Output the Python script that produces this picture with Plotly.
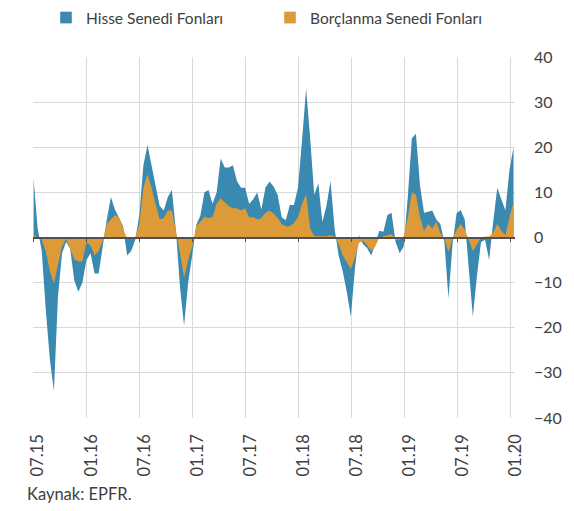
import datetime as dt
import plotly.graph_objects as go

start = dt.date(2015, 7, 3)
hisse = [13, 2, -3, -16, -27, -34, -13, -3.5, -1, -2.5,
         -9.5, -12, -10, -5, -3.5, -8, -8, -2, 4, 9,
         6.2, 4.4, 2.5, -4, -3, -0.5, 5, 16, 20.5, 16,
         11.5, 7, 6, 9, 10.5, 1.5, -11, -19.5, -10, -4,
         2.8, 4.8, 10, 10.5, 7.5, 10, 17.5, 15.5, 15.5, 16,
         12.5, 11, 11, 7.5, 8.5, 10, 6.2, 11, 12.4, 11.3,
         9.5, 4.5, 3.8, 7.2, 7.2, 11, 21.5, 33, 22, 9.5,
         12, 3.5, 7, 12.5, 2, -4, -7.5, -12, -17.5, -7,
         0.5, -1.5, -2.3, -4, -1.5, 1.5, 1.3, 5, 5.5, -1,
         -3.5, -2, 9, 22, 23, 11.5, 5.5, 5.7, 6, 4,
         3, -1, -13.5, -1.5, 5.4, 6.1, 4, -7, -17.5, -8.5,
         -1, -0.5, -5, 3.5, 11, 8.5, 6, 15, 20]
borc = [0.5, 0, -0.5, -3, -7.5, -10.2, -6, -2, -0.3, -2.5,
        -4.8, -5.3, -5.3, -1, -1.8, -4, -3, -0.8, 3, 4,
        5, 4.5, 2, -0.3, -0.2, 0, 3, 11, 14, 11,
        7.5, 4, 4.3, 6, 6, 1.5, -3.5, -9, -5, -2,
        2.5, 3.5, 4.6, 4.3, 4.5, 7.5, 8.7, 7.8, 7, 6.5,
        6.5, 6, 6.5, 4.5, 4.5, 4, 4.3, 5.5, 6, 5.3,
        4.3, 3, 2.5, 2.5, 3.2, 4.5, 7.5, 9.6, 2, 0.3,
        0.3, 0.3, 0.3, 0.5, 0.2, -1.5, -4, -5.5, -7, -4.5,
        -1.2, -0.7, -1.7, -3, -2, 0, 0.3, 0.5, 0.8, -0.5,
        -0.5, 0.3, 4.5, 10, 9.5, 4.5, 1.5, 3, 2, 3.5,
        1, -0.3, -3.2, -0.3, 1.7, 3, 1.8, -0.5, -3, -1.5,
        0, 0.2, 0.2, 1, 3, 1.5, 0.5, 4.5, 8]
dates = [start + dt.timedelta(days=14 * i) for i in range(len(hisse))]

tick_dates = ["2015-07-01", "2016-01-01", "2016-07-01", "2017-01-01", "2017-07-01",
              "2018-01-01", "2018-07-01", "2019-01-01", "2019-07-01", "2020-01-01"]
tick_text = ["07.15", "01.16", "07.16", "01.17", "07.17",
             "01.18", "07.18", "01.19", "07.19", "01.20"]
y_ticks = [-40, -30, -20, -10, 0, 10, 20, 30, 40]

names = ["Hisse Senedi Fonları", "Borçlanma Senedi Fonları"]
colors = ["#3A89B0", "#DC9A38"]

FONT = "Lato"
TXT = "#404040"
xr = ["2015-07-01", "2020-01-15"]

fig = go.Figure()
for vals, name, col in zip([hisse, borc], names, colors):
    fig.add_trace(go.Scatter(x=dates, y=vals, mode="none", fill="tozeroy",
                             fillcolor=col, name=name, showlegend=False,
                             hoverinfo="skip"))
for name, col in zip(names, colors):
    fig.add_trace(go.Bar(x=[None], y=[None], name=name, marker_color=col,
                         showlegend=True))
# empty trace that makes the zero-crossing category axis render
fig.add_trace(go.Scatter(x=[None], y=[None], xaxis="x2", showlegend=False,
                         hoverinfo="skip"))

fig.update_layout(
    width=574, height=511,
    margin=dict(l=33, r=59, t=57, b=93, autoexpand=False),
    paper_bgcolor="white", plot_bgcolor="white",
    font=dict(family=FONT, color=TXT, size=14),
    showlegend=True,
    legend=dict(orientation="h", xref="container", yref="container",
                x=46 / 574, y=1 - 18 / 511, xanchor="left", yanchor="middle",
                font=dict(size=15.5, color=TXT), itemwidth=30,
                entrywidth=179, bgcolor="rgba(0,0,0,0)"),
    xaxis=dict(type="date", range=xr, tickvals=tick_dates, ticktext=tick_text,
               tickangle=-90, showgrid=True, gridcolor="#D9D9D9", gridwidth=1,
               zeroline=False, showline=False, ticks="", automargin=False,
               tickfont=dict(size=16.5, color=TXT), ticklabelstandoff=12,
               ticklabelshift=5),
    xaxis2=dict(type="date", range=xr, overlaying="x", anchor="free", position=0.5,
                tickvals=tick_dates, showticklabels=False, showgrid=False,
                ticks="outside", ticklen=4, tickcolor="#505050", tickwidth=1,
                showline=True, linecolor="#505050", linewidth=1.5, zeroline=False),
    yaxis=dict(range=[-40, 40], tickvals=y_ticks, side="right", showgrid=True,
               gridcolor="#D9D9D9", gridwidth=1, zeroline=False, showline=False,
               automargin=False,
               tickfont=dict(size=16, color=TXT), ticklabelstandoff=18),
    annotations=[dict(text="Kaynak: EPFR.", xref="paper", yref="paper",
                      x=(25 - 33) / 482, y=(418 - 494) / 361,
                      xanchor="left", yanchor="middle",
                      showarrow=False, font=dict(size=16.5, color=TXT))],
)
fig.write_html("out.html", config={"displayModeBar": False},
               post_script="document.body.style.margin='0';")
